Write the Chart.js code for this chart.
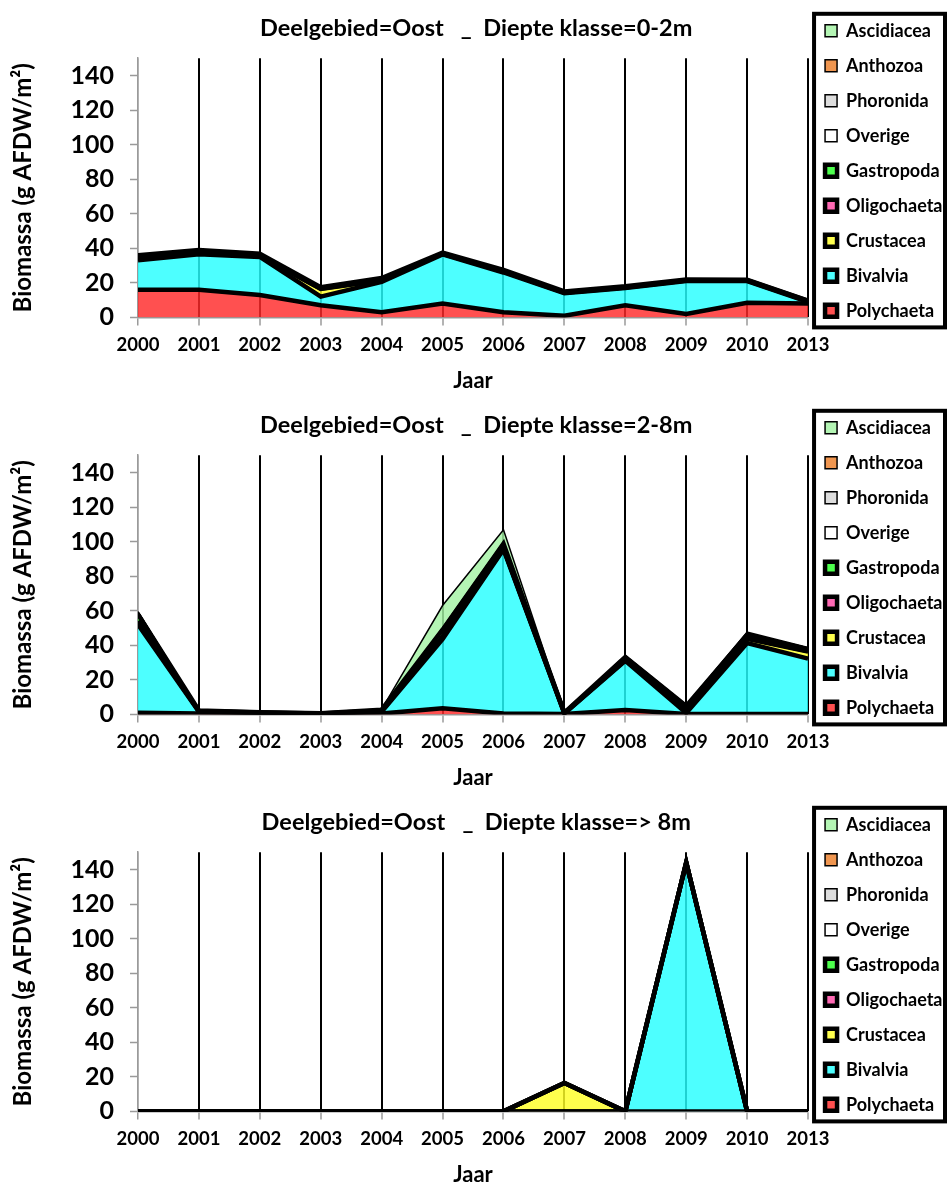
<!DOCTYPE html>
<html>
<head>
<meta charset="utf-8">
<script src="https://cdn.jsdelivr.net/npm/chart.js@4.4.0/dist/chart.umd.min.js"></script>
<style>
  html, body { margin: 0; padding: 0; background: #fff; overflow: hidden; }
  canvas { display: block; }
</style>
</head>
<body>
<canvas id="c1" width="947" height="397"></canvas>
<canvas id="c2" width="947" height="397"></canvas>
<canvas id="c3" width="947" height="397"></canvas>
<script>
const years = ['2000', '2001', '2002', '2003', '2004', '2005', '2006', '2007', '2008', '2009', '2010', '2013'];
const taxa = ['Polychaeta', 'Bivalvia', 'Crustacea', 'Oligochaeta', 'Gastropoda', 'Overige', 'Phoronida', 'Anthozoa', 'Ascidiacea'];
const yTicks = [0, 20, 40, 60, 80, 100, 120, 140];

// Diepte klasse 0-2m
const polychaeta02  = [16, 16, 13, 7, 3, 8, 3, 1, 7, 2, 8.5, 8];
const bivalvia02    = [17, 20.5, 22, 5, 17.5, 28.5, 23, 13, 10, 19, 12.5, 1];
const crustacea02   = [1, 0.5, 0.5, 4.5, 1, 0.3, 0.5, 0.3, 0.3, 0.3, 0.3, 0.3];
const oligochaeta02 = [0.5, 0.5, 0.3, 0.2, 0.3, 0.2, 0.2, 0.2, 0.2, 0.2, 0.2, 0.2];
const gastropoda02  = [1.5, 1.5, 1, 0.8, 1, 0.5, 0.8, 0.5, 0.5, 0.5, 0.3, 0.2];
const overige02     = [0.3, 0.2, 0.2, 0.2, 0.2, 0.2, 0.2, 0.2, 0.2, 0.2, 0.2, 0.1];
const phoronida02   = [0, 0, 0, 0, 0, 0, 0, 0, 0, 0, 0, 0];
const anthozoa02    = [0, 0, 0, 0, 0, 0, 0, 0, 0, 0, 0, 0];
const ascidiacea02  = [0, 0, 0, 0, 0, 0, 0, 0, 0, 0, 0, 0];

// Diepte klasse 2-8m
const polychaeta28  = [1, 0.5, 0.5, 0.2, 0.5, 3.5, 0.5, 0.3, 2.5, 0.3, 0.3, 0.3];
const bivalvia28    = [51, 1, 0.3, 0.1, 1, 40, 95, 0.2, 28.5, 0.5, 41, 32];
const crustacea28   = [1.5, 0.3, 0.2, 0.1, 0.5, 1, 0.5, 0.2, 0.5, 3, 2.5, 4];
const oligochaeta28 = [0.5, 0.2, 0.1, 0.1, 0.2, 0.5, 0.3, 0.1, 0.3, 0.3, 0.3, 0.3];
const gastropoda28  = [4, 0.3, 0.2, 0.1, 0.5, 4, 2.5, 0.2, 1.5, 0.8, 2, 1];
const overige28     = [1, 0.2, 0.1, 0.1, 0.2, 0.5, 0.5, 0.1, 0.5, 0.3, 0.5, 0.5];
const phoronida28   = [0.3, 0, 0, 0, 0, 0.3, 0.3, 0, 0.2, 0.2, 0.3, 0.3];
const anthozoa28    = [0, 0, 0, 0, 0, 0.2, 0.2, 0, 0, 0, 0.2, 0];
const ascidiacea28  = [0, 0, 0, 0, 0, 13, 7, 0, 0, 0, 0.5, 0.3];

// Diepte klasse > 8m
const polychaeta8  = [0, 0, 0, 0, 0, 0, 0, 0, 0, 0, 0, 0];
const bivalvia8    = [0, 0, 0, 0, 0, 0, 0, 0, 0, 144, 0, 0];
const crustacea8   = [0, 0, 0, 0, 0, 0, 0, 16.5, 0, 0, 0, 0];
const oligochaeta8 = [0, 0, 0, 0, 0, 0, 0, 0, 0, 0, 0, 0];
const gastropoda8  = [0, 0, 0, 0, 0, 0, 0, 0, 0, 0, 0, 0];
const overige8     = [0, 0, 0, 0, 0, 0, 0, 0, 0, 0, 0, 0];
const phoronida8   = [0, 0, 0, 0, 0, 0, 0, 0, 0, 0, 0, 0];
const anthozoa8    = [0, 0, 0, 0, 0, 0, 0, 0, 0, 0, 0, 0];
const ascidiacea8  = [0, 0, 0, 0, 0, 0, 0, 0, 0, 0, 0, 0];

// fill colours (slightly see-through so the grid shows as a darker line)
const fills = [
  'rgba(255,42,42,0.82)',    // Polychaeta
  'rgba(38,255,255,0.82)',   // Bivalvia
  'rgba(255,255,38,0.82)',   // Crustacea
  'rgba(255,72,164,0.82)',   // Oligochaeta
  'rgba(38,255,38,0.82)',    // Gastropoda
  'rgba(255,255,255,0.82)',  // Overige
  'rgba(214,214,214,0.82)',  // Phoronida
  'rgba(237,127,42,0.82)',   // Anthozoa
  'rgba(164,243,164,0.82)'   // Ascidiacea
];
const borderWidths = [4.5, 4.5, 4.5, 4.5, 4.5, 1.5, 1.5, 1.5, 1.5];
const GREY = '#9a9a9a';

Chart.defaults.font.family = 'Lato, "Open Sans", sans-serif';
Chart.defaults.color = '#000';

// thick frame round the legend: from just above the first item to just under the plot bottom
const legendFrame = {
  id: 'legendFrame',
  afterDraw(chart) {
    const hb = chart.legend.legendHitBoxes;
    if (!hb || !hb.length) return;
    const area = chart.chartArea;
    const ctx = chart.ctx;
    const top = hb[0].top + hb[0].height / 2 - 17;
    const bottom = area.bottom + 10;
    const left = hb[0].left - 11;
    const right = chart.width - 2;
    ctx.save();
    ctx.lineWidth = 4;
    ctx.strokeStyle = '#000';
    ctx.strokeRect(left, top, right - left, bottom - top);
    ctx.restore();
  }
};

function makeChart(id, depth, series) {
  const datasets = series.map((data, i) => ({
    label: taxa[i],
    data: data,
    backgroundColor: fills[i],
    borderColor: '#000',
    borderWidth: borderWidths[i],
    fill: i === 0 ? 'origin' : '-1',
    pointRadius: 0,
    tension: 0,
    clip: 0
  }));
  return new Chart(document.getElementById(id), {
    type: 'line',
    data: { labels: years, datasets: datasets },
    plugins: [legendFrame],
    options: {
      responsive: false,
      animation: false,
      layout: { padding: { left: 0, right: -5.5, top: 0, bottom: 0 } },
      plugins: {
        filler: { drawTime: 'beforeDatasetsDraw', propagate: false },
        tooltip: { enabled: false },
        title: {
          display: true,
          text: 'Deelgebied=Oost   _  Diepte klasse=' + depth,
          font: { size: 23.5, weight: 'bold' },
          color: '#000',
          padding: { top: 14, bottom: 16 }
        },
        legend: {
          position: 'right',
          align: 'start',
          reverse: true,
          title: { display: true, text: '', font: { size: 4 }, padding: 0 },
          labels: {
            boxWidth: 12,
            boxHeight: 12,
            padding: 17,
            color: '#000',
            font: { size: 18, weight: 'bold' }
          }
        }
      },
      scales: {
        x: {
          offset: false,
          border: { color: GREY, width: 1.5 },
          grid: {
            color: (c) => (c.index === 0 ? GREY : '#000'),
            lineWidth: (c) => (c.index === 0 ? 1.5 : 2),
            drawTicks: true,
            tickLength: 8,
            tickColor: GREY,
            tickWidth: 1.5
          },
          ticks: { padding: 9, maxRotation: 0, autoSkip: false, color: '#000', font: { size: 18.5, weight: 'bold' } },
          title: { display: true, text: 'Jaar', color: '#000', font: { size: 22, weight: 'bold' }, padding: { top: 2, bottom: 3 } }
        },
        y: {
          stacked: true,
          min: 0,
          max: 150,
          afterFit: (s) => { s.width = 138; },
          afterBuildTicks: (s) => { s.ticks = yTicks.map((v) => ({ value: v })); },
          border: { color: GREY, width: 1.5 },
          grid: { drawOnChartArea: false, drawTicks: true, tickLength: 8, tickColor: GREY, tickWidth: 1.5 },
          ticks: { padding: 16, color: '#000', font: { size: 25, weight: 'bold' } },
          title: { display: true, text: 'Biomassa (g AFDW/m²)', color: '#000', font: { size: 24, weight: 'bold' }, padding: { top: 9, bottom: 0 } }
        }
      }
    }
  });
}

makeChart('c1', '0-2m', [polychaeta02, bivalvia02, crustacea02, oligochaeta02, gastropoda02, overige02, phoronida02, anthozoa02, ascidiacea02]);
makeChart('c2', '2-8m', [polychaeta28, bivalvia28, crustacea28, oligochaeta28, gastropoda28, overige28, phoronida28, anthozoa28, ascidiacea28]);
makeChart('c3', '> 8m', [polychaeta8, bivalvia8, crustacea8, oligochaeta8, gastropoda8, overige8, phoronida8, anthozoa8, ascidiacea8]);
</script>
</body>
</html>
